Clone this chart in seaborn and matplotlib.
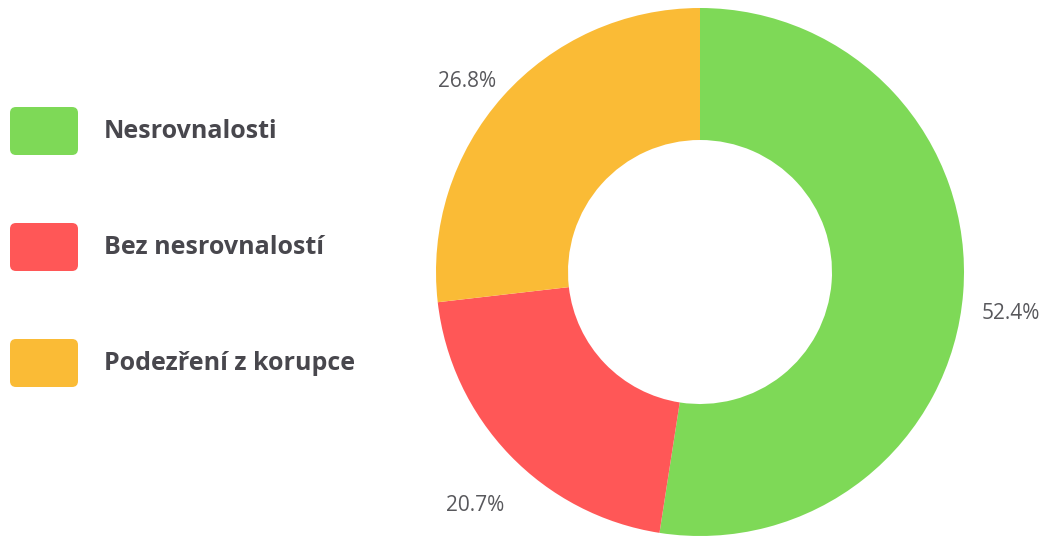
import matplotlib
matplotlib.use("Agg")
import matplotlib.pyplot as plt
from matplotlib.patches import FancyBboxPatch
import seaborn as sns

categories = ["Nesrovnalosti", "Bez nesrovnalostí", "Podezření z korupce"]
values = [52.4, 20.7, 26.8]
colors = ["#7ED957", "#FF5757", "#FABB36"]

sns.set_theme(style="white")
plt.rcParams['font.family'] = ['Open Sans', 'DejaVu Sans']

W, H = 1041, 537
fig = plt.figure(figsize=(W / 100, H / 100), dpi=100)
fig.patch.set_facecolor("white")

# donut axes: centre (700, 272) px, radius 264 px
cx, cy, r = 700, 272, 264
ax = fig.add_axes([(cx - r) / W, (H - cy - r) / H, 2 * r / W, 2 * r / H])
wedges, texts, autotexts = ax.pie(
    values, colors=colors, startangle=90, counterclock=False,
    radius=1.0, wedgeprops=dict(width=0.5, linewidth=0),
    autopct="%.1f%%", pctdistance=1.18,
    textprops=dict(color="#58585c", fontsize=15))
for t, v in zip(autotexts, values):
    t.set_text(f"{v:.1f}%")
    x, y = t.get_position()
    t.set_position((x, y - 0.065))
ax.set_xlim(-1, 1)
ax.set_ylim(-1, 1)
ax.set_aspect("equal")
ax.axis("off")

# legend in pixel coordinates
lax = fig.add_axes([0, 0, 1, 1])
lax.set_xlim(0, W)
lax.set_ylim(H, 0)
lax.axis("off")
box_y = [131, 247, 363]
for cat, col, yc in zip(categories, colors, box_y):
    lax.add_patch(FancyBboxPatch((10, yc - 24), 68, 48,
                                 boxstyle="round,pad=0,rounding_size=6",
                                 facecolor=col, edgecolor="none"))
    lax.text(104, yc + 1, cat, fontsize=18, fontweight="bold",
             color="#48474d", va="center", ha="left")

fig.savefig("out.png", dpi=100, facecolor="white")
